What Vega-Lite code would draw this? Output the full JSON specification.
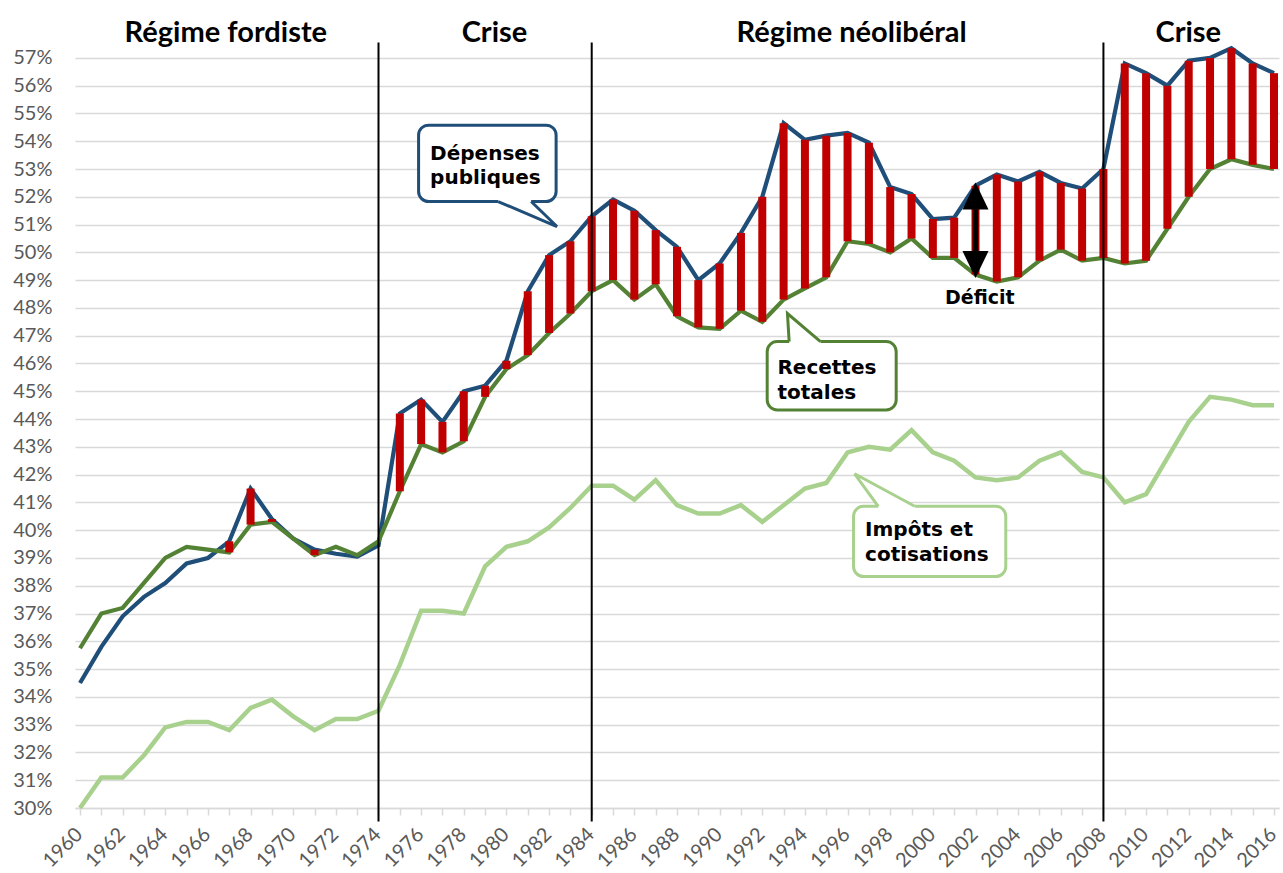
{
  "$schema": "https://vega.github.io/schema/vega-lite/v6.json",
  "width": 1204,
  "height": 794,
  "autosize": {"type": "none"},
  "padding": {"left": 75, "top": 14, "right": 4, "bottom": 65},
  "background": "white",
  "config": {
    "view": {"stroke": null},
    "axis": {"labelFont": "Lato", "labelColor": "#595959", "labelOverlap": false, "labelBound": false, "labelFlush": false, "labelSeparation": 0}
  },
  "resolve": {"axis": {"x": "independent", "y": "independent"}},
  "datasets": {
    "main": [
      {"year": 1960, "dep": 34.5, "rec": 35.75, "imp": 30.0},
      {"year": 1961, "dep": 35.8, "rec": 37.0, "imp": 31.1},
      {"year": 1962, "dep": 36.9, "rec": 37.2, "imp": 31.1},
      {"year": 1963, "dep": 37.6, "rec": 38.1, "imp": 31.9},
      {"year": 1964, "dep": 38.1, "rec": 39.0, "imp": 32.9},
      {"year": 1965, "dep": 38.8, "rec": 39.4, "imp": 33.1},
      {"year": 1966, "dep": 39.0, "rec": 39.3, "imp": 33.1},
      {"year": 1967, "dep": 39.6, "rec": 39.2, "imp": 32.8},
      {"year": 1968, "dep": 41.5, "rec": 40.2, "imp": 33.6},
      {"year": 1969, "dep": 40.4, "rec": 40.3, "imp": 33.9},
      {"year": 1970, "dep": 39.7, "rec": 39.7, "imp": 33.3},
      {"year": 1971, "dep": 39.3, "rec": 39.1, "imp": 32.8},
      {"year": 1972, "dep": 39.15, "rec": 39.4, "imp": 33.2},
      {"year": 1973, "dep": 39.05, "rec": 39.1, "imp": 33.2},
      {"year": 1974, "dep": 39.45, "rec": 39.6, "imp": 33.5},
      {"year": 1975, "dep": 44.2, "rec": 41.4, "imp": 35.15},
      {"year": 1976, "dep": 44.7, "rec": 43.1, "imp": 37.1},
      {"year": 1977, "dep": 43.9, "rec": 42.8, "imp": 37.1},
      {"year": 1978, "dep": 45.0, "rec": 43.2, "imp": 37.0},
      {"year": 1979, "dep": 45.2, "rec": 44.8, "imp": 38.7},
      {"year": 1980, "dep": 46.1, "rec": 45.8, "imp": 39.4},
      {"year": 1981, "dep": 48.6, "rec": 46.3, "imp": 39.6},
      {"year": 1982, "dep": 49.9, "rec": 47.1, "imp": 40.1},
      {"year": 1983, "dep": 50.4, "rec": 47.8, "imp": 40.8},
      {"year": 1984, "dep": 51.3, "rec": 48.6, "imp": 41.6},
      {"year": 1985, "dep": 51.9, "rec": 49.0, "imp": 41.6},
      {"year": 1986, "dep": 51.5, "rec": 48.3, "imp": 41.1},
      {"year": 1987, "dep": 50.8, "rec": 48.85, "imp": 41.8},
      {"year": 1988, "dep": 50.2, "rec": 47.7, "imp": 40.9},
      {"year": 1989, "dep": 49.0, "rec": 47.3, "imp": 40.6},
      {"year": 1990, "dep": 49.6, "rec": 47.25, "imp": 40.6},
      {"year": 1991, "dep": 50.7, "rec": 47.9, "imp": 40.9},
      {"year": 1992, "dep": 52.0, "rec": 47.5, "imp": 40.3},
      {"year": 1993, "dep": 54.65, "rec": 48.3, "imp": 40.9},
      {"year": 1994, "dep": 54.05, "rec": 48.7, "imp": 41.5},
      {"year": 1995, "dep": 54.2, "rec": 49.1, "imp": 41.7},
      {"year": 1996, "dep": 54.3, "rec": 50.4, "imp": 42.8},
      {"year": 1997, "dep": 53.95, "rec": 50.3, "imp": 43.0},
      {"year": 1998, "dep": 52.35, "rec": 50.0, "imp": 42.9},
      {"year": 1999, "dep": 52.1, "rec": 50.5, "imp": 43.6},
      {"year": 2000, "dep": 51.2, "rec": 49.8, "imp": 42.8},
      {"year": 2001, "dep": 51.25, "rec": 49.8, "imp": 42.5},
      {"year": 2002, "dep": 52.4, "rec": 49.2, "imp": 41.9},
      {"year": 2003, "dep": 52.8, "rec": 48.95, "imp": 41.8},
      {"year": 2004, "dep": 52.55, "rec": 49.1, "imp": 41.9},
      {"year": 2005, "dep": 52.9, "rec": 49.7, "imp": 42.5},
      {"year": 2006, "dep": 52.5, "rec": 50.1, "imp": 42.8},
      {"year": 2007, "dep": 52.3, "rec": 49.7, "imp": 42.1},
      {"year": 2008, "dep": 53.0, "rec": 49.8, "imp": 41.9},
      {"year": 2009, "dep": 56.8, "rec": 49.6, "imp": 41.0},
      {"year": 2010, "dep": 56.45, "rec": 49.7, "imp": 41.3},
      {"year": 2011, "dep": 56.0, "rec": 50.85, "imp": 42.6},
      {"year": 2012, "dep": 56.9, "rec": 52.0, "imp": 43.9},
      {"year": 2013, "dep": 57.0, "rec": 53.0, "imp": 44.8},
      {"year": 2014, "dep": 57.35, "rec": 53.35, "imp": 44.7},
      {"year": 2015, "dep": 56.8, "rec": 53.15, "imp": 44.5},
      {"year": 2016, "dep": 56.45, "rec": 53.0, "imp": 44.5}
    ],
    "periods": [{"year": 1974}, {"year": 1984}, {"year": 2008}],
    "titles": [
      {"label": "Régime fordiste", "year": 1966.84},
      {"label": "Crise", "year": 1979.44},
      {"label": "Régime néolibéral", "year": 1996.19},
      {"label": "Crise", "year": 2011.98}
    ],
    "boxes": [
      {"box": "dep", "x1": 1975.88, "x2": 1982.33, "y1": 51.83, "y2": 54.58},
      {"box": "rec", "x1": 1992.23, "x2": 1998.28, "y1": 44.33, "y2": 46.79},
      {"box": "imp", "x1": 1996.28, "x2": 2003.42, "y1": 38.33, "y2": 40.86}
    ],
    "gaps": [
      {"box": "dep", "x1": 1979.61, "x2": 1981.16, "y1": 51.74, "y2": 51.92},
      {"box": "rec", "x1": 1993.26, "x2": 1994.73, "y1": 46.7, "y2": 46.88},
      {"box": "imp", "x1": 1997.44, "x2": 1999.15, "y1": 40.77, "y2": 40.95}
    ],
    "tri": [
      {"box": "dep", "x": 1979.61, "lo": 51.83, "hi": 51.83},
      {"box": "dep", "x": 1981.16, "lo": 51.325, "hi": 51.83},
      {"box": "dep", "x": 1982.37, "lo": 50.93, "hi": 50.93},
      {"box": "rec", "x": 1993.18, "lo": 47.8, "hi": 47.8},
      {"box": "rec", "x": 1993.26, "lo": 46.79, "hi": 47.75},
      {"box": "rec", "x": 1994.73, "lo": 46.79, "hi": 46.79},
      {"box": "imp", "x": 1996.33, "lo": 42.03, "hi": 42.03},
      {"box": "imp", "x": 1997.44, "lo": 40.86, "hi": 41.57},
      {"box": "imp", "x": 1999.15, "lo": 40.86, "hi": 40.86}
    ],
    "edges": [
      {"box": "dep", "o": 1, "x": 1979.61, "y": 51.83},
      {"box": "dep", "o": 2, "x": 1982.37, "y": 50.93},
      {"box": "dep", "o": 3, "x": 1981.16, "y": 51.83},
      {"box": "rec", "o": 1, "x": 1993.26, "y": 46.79},
      {"box": "rec", "o": 2, "x": 1993.18, "y": 47.8},
      {"box": "rec", "o": 3, "x": 1994.73, "y": 46.79},
      {"box": "imp", "o": 1, "x": 1997.44, "y": 40.86},
      {"box": "imp", "o": 2, "x": 1996.33, "y": 42.03},
      {"box": "imp", "o": 3, "x": 1999.15, "y": 40.86}
    ],
    "notes": [
      {"t": "Dépenses", "x": 1976.42, "y": 53.34},
      {"t": "publiques", "x": 1976.42, "y": 52.47},
      {"t": "Recettes", "x": 1992.71, "y": 45.63},
      {"t": "totales", "x": 1992.71, "y": 44.72},
      {"t": "Impôts et", "x": 1996.82, "y": 39.8},
      {"t": "cotisations", "x": 1996.82, "y": 38.88}
    ],
    "arrow": [{"x": 2002.0, "y1": 50.05, "y2": 51.55}],
    "heads": [
      {"x": 2002.0, "y": 52.03, "d": "up"},
      {"x": 2002.0, "y": 49.56, "d": "down"}
    ],
    "deficit": [{"t": "Déficit", "x": 2002.2, "y": 48.15}]
  },
  "layer": [
    {
      "data": {"name": "main"},
      "mark": {"type": "line", "color": "#1f4e79", "strokeWidth": 4.2},
      "encoding": {
        "x": {
          "field": "year", "type": "quantitative", "title": null,
          "scale": {"domain": [1960, 2016], "nice": false, "zero": false},
          "axis": {
            "values": [1960,1961,1962,1963,1964,1965,1966,1967,1968,1969,1970,1971,1972,1973,1974,1975,1976,1977,1978,1979,1980,1981,1982,1983,1984,1985,1986,1987,1988,1989,1990,1991,1992,1993,1994,1995,1996,1997,1998,1999,2000,2001,2002,2003,2004,2005,2006,2007,2008,2009,2010,2011,2012,2013,2014,2015,2016],
            "labelExpr": "datum.value % 2 == 0 ? '' + datum.value : ''",
            "labelAngle": -45,
            "labelAlign": "right",
            "labelBaseline": "middle",
            "labelFontSize": 20,
            "labelPadding": 16,
            "labelOffset": -1,
            "labelOverlap": false,
            "labelBound": false,
            "labelFlush": false,
            "tickColor": "#d9d9d9",
            "tickSize": 7,
            "tickWidth": 1.5,
            "domainColor": "#d9d9d9",
            "domainWidth": 1.5,
            "grid": false
          }
        },
        "y": {
          "field": "dep", "type": "quantitative", "title": null,
          "scale": {"domain": [30, 58.58], "nice": false, "zero": false},
          "axis": {
            "values": [30,31,32,33,34,35,36,37,38,39,40,41,42,43,44,45,46,47,48,49,50,51,52,53,54,55,56,57],
            "labelExpr": "datum.value + '%'",
            "labelFontSize": 20,
            "labelPadding": 23,
            "ticks": false,
            "tickSize": 0,
            "domain": false,
            "grid": true,
            "gridColor": "#d9d9d9",
            "gridWidth": 1.4,
            "labelOverlap": false,
            "labelSeparation": 0
          }
        }
      }
    },
    {
      "data": {"name": "main"},
      "mark": {"type": "line", "color": "#548235", "strokeWidth": 4.2},
      "encoding": {
        "x": {"field": "year", "type": "quantitative", "axis": null},
        "y": {"field": "rec", "type": "quantitative", "axis": null}
      }
    },
    {
      "data": {"name": "main"},
      "mark": {"type": "line", "color": "#a9d18e", "strokeWidth": 4.5},
      "encoding": {
        "x": {"field": "year", "type": "quantitative", "axis": null},
        "y": {"field": "imp", "type": "quantitative", "axis": null}
      }
    },
    {
      "data": {"name": "main"},
      "transform": [{"filter": "datum.dep > datum.rec"}],
      "mark": {"type": "bar", "color": "#c00000", "size": 8},
      "encoding": {
        "x": {"field": "year", "type": "quantitative", "axis": null},
        "y": {"field": "rec", "type": "quantitative", "axis": null},
        "y2": {"field": "dep"}
      }
    },
    {
      "data": {"name": "periods"},
      "mark": {"type": "rule", "color": "black", "strokeWidth": 2},
      "encoding": {
        "x": {"field": "year", "type": "quantitative", "axis": null},
        "y": {"datum": 57.55, "type": "quantitative", "axis": null},
        "y2": {"datum": 29.51}
      }
    },
    {
      "data": {"name": "titles"},
      "mark": {"type": "text", "font": "Lato", "fontWeight": "bold", "fontSize": 29, "align": "center", "baseline": "alphabetic", "color": "black"},
      "encoding": {
        "x": {"field": "year", "type": "quantitative", "axis": null},
        "y": {"datum": 57.56, "type": "quantitative", "axis": null},
        "text": {"field": "label"}
      }
    },
    {
      "data": {"name": "boxes"},
      "mark": {"type": "rect", "fill": "white", "strokeWidth": 3, "cornerRadius": 10},
      "encoding": {
        "x": {"field": "x1", "type": "quantitative", "axis": null},
        "x2": {"field": "x2"},
        "y": {"field": "y1", "type": "quantitative", "axis": null},
        "y2": {"field": "y2"},
        "stroke": {"field": "box", "type": "nominal", "legend": null, "scale": {"domain": ["dep", "rec", "imp"], "range": ["#1f4e79", "#548235", "#a9d18e"]}}
      }
    },
    {
      "data": {"name": "gaps"},
      "mark": {"type": "rect", "fill": "white", "strokeWidth": 0},
      "encoding": {
        "x": {"field": "x1", "type": "quantitative", "axis": null},
        "x2": {"field": "x2"},
        "y": {"field": "y1", "type": "quantitative", "axis": null},
        "y2": {"field": "y2"}
      }
    },
    {
      "data": {"name": "tri"},
      "mark": {"type": "area", "fill": "white", "strokeWidth": 0},
      "encoding": {
        "x": {"field": "x", "type": "quantitative", "axis": null},
        "y": {"field": "lo", "type": "quantitative", "axis": null},
        "y2": {"field": "hi"},
        "detail": {"field": "box"}
      }
    },
    {
      "data": {"name": "edges"},
      "mark": {"type": "line", "strokeWidth": 3, "strokeJoin": "miter"},
      "encoding": {
        "x": {"field": "x", "type": "quantitative", "axis": null},
        "y": {"field": "y", "type": "quantitative", "axis": null},
        "order": {"field": "o"},
        "detail": {"field": "box"},
        "stroke": {"field": "box", "type": "nominal", "legend": null, "scale": {"domain": ["dep", "rec", "imp"], "range": ["#1f4e79", "#548235", "#a9d18e"]}}
      }
    },
    {
      "data": {"name": "notes"},
      "mark": {"type": "text", "font": "DejaVu Sans", "fontWeight": "bold", "fontSize": 20, "align": "left", "baseline": "alphabetic", "color": "black"},
      "encoding": {
        "x": {"field": "x", "type": "quantitative", "axis": null},
        "y": {"field": "y", "type": "quantitative", "axis": null},
        "text": {"field": "t"}
      }
    },
    {
      "data": {"name": "arrow"},
      "mark": {"type": "rule", "color": "black", "strokeWidth": 5.5},
      "encoding": {
        "x": {"field": "x", "type": "quantitative", "axis": null},
        "y": {"field": "y1", "type": "quantitative", "axis": null},
        "y2": {"field": "y2"}
      }
    },
    {
      "data": {"name": "heads"},
      "mark": {"type": "point", "filled": true, "color": "black", "opacity": 1, "size": 729},
      "encoding": {
        "x": {"field": "x", "type": "quantitative", "axis": null},
        "y": {"field": "y", "type": "quantitative", "axis": null},
        "shape": {"field": "d", "type": "nominal", "legend": null, "scale": {"domain": ["up", "down"], "range": ["M0,-1L0.963,1L-0.963,1Z", "M0,1L0.963,-1L-0.963,-1Z"]}}
      }
    },
    {
      "data": {"name": "deficit"},
      "mark": {"type": "text", "font": "DejaVu Sans", "fontWeight": "bold", "fontSize": 19, "align": "center", "baseline": "alphabetic", "color": "black"},
      "encoding": {
        "x": {"field": "x", "type": "quantitative", "axis": null},
        "y": {"field": "y", "type": "quantitative", "axis": null},
        "text": {"field": "t"}
      }
    }
  ]
}
